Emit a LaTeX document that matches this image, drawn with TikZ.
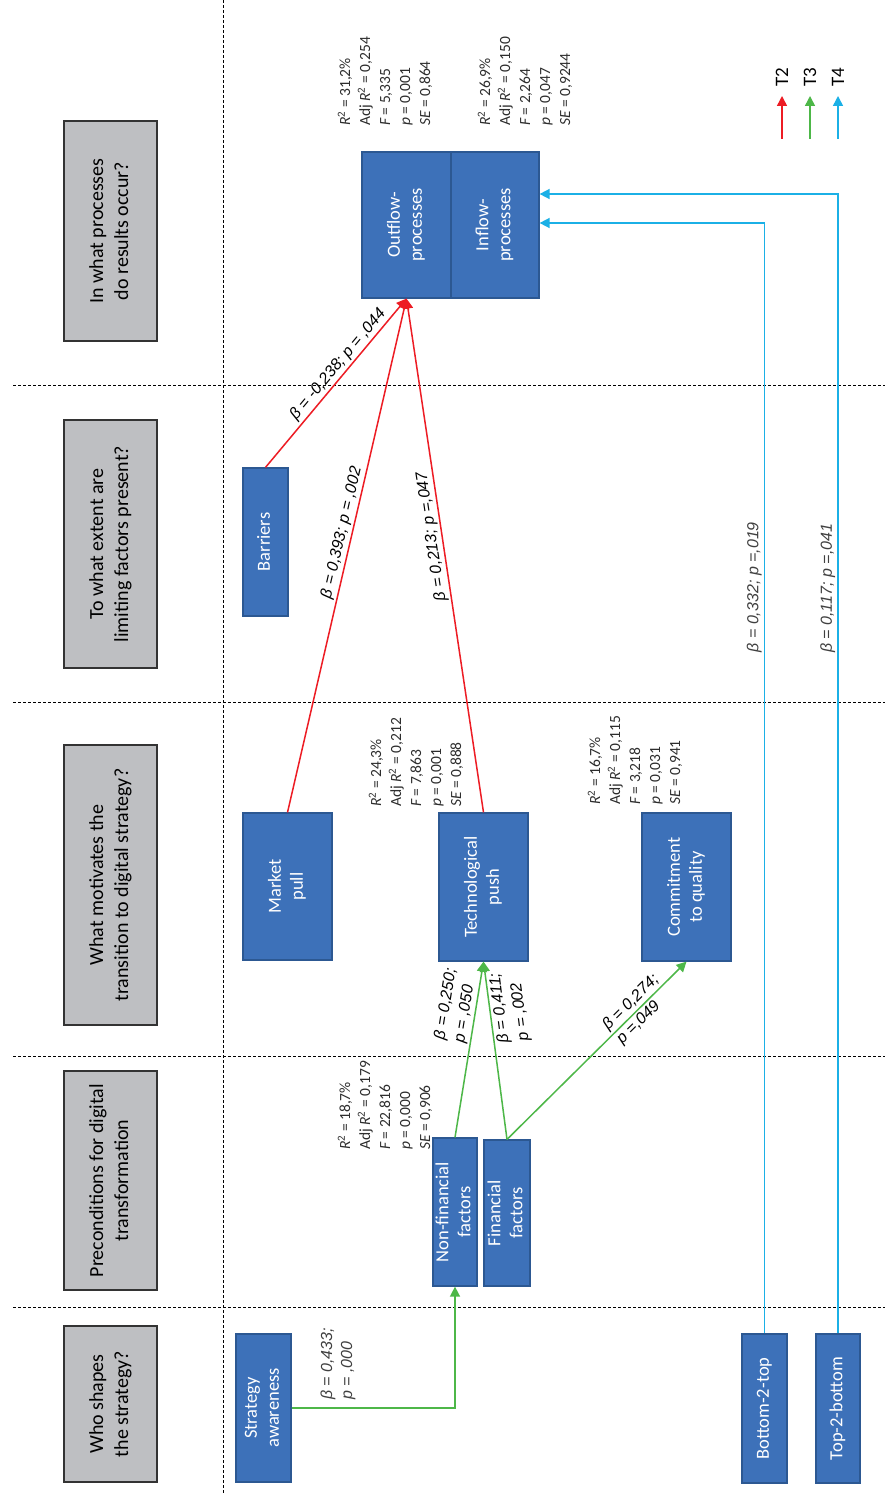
\documentclass[tikz,border=0pt]{standalone}
\usepackage{graphicx}
\usepackage{fontspec}
\setmainfont{Carlito}
\newfontfamily\arialf{Liberation Sans}
\usetikzlibrary{arrows.meta}
\newcommand\rtx[2][c]{\rotatebox{90}{\begin{tabular}{@{}#1@{}}#2\end{tabular}}}
\definecolor{boxblue}{RGB}{61,113,185}
\definecolor{boxedge}{RGB}{44,88,146}
\definecolor{qgray}{RGB}{190,191,194}
\definecolor{tred}{RGB}{237,28,36}
\definecolor{tgreen}{RGB}{77,183,72}
\definecolor{tblue}{RGB}{27,176,230}
\definecolor{statgray}{RGB}{45,45,45}
\begin{document}
\begin{tikzpicture}[x=1pt,y=-1pt,
  qbox/.style={draw=black!80, fill=qgray, line width=1.3pt, minimum width=93pt, inner sep=0pt, font=\fontsize{20}{25}\selectfont},
  bbox/.style={draw=boxedge, fill=boxblue, line width=1.2pt, text=white, inner sep=0pt, font=\fontsize{18.5}{22}\selectfont},
  stat/.style={inner sep=0pt, anchor=south west, text=statgray, font=\fontsize{15.5}{20}\selectfont},
  lbl/.style={inner sep=2pt, text=black, font=\arialf\itshape\fontsize{16}{20}\selectfont},
  thinlbl/.style={lbl, text=black!75},
  leg/.style={inner sep=0pt, font=\fontsize{19}{22}\selectfont},
  dashln/.style={black, line width=0.8pt, dash pattern=on 3pt off 2pt},
  redarr/.style={tred, line width=1.5pt, -{Triangle[length=10pt,width=10pt]}},
  grnarr/.style={tgreen, line width=1.5pt, -{Triangle[length=10pt,width=10pt]}},
  bluarr/.style={tblue, line width=1.5pt, -{Triangle[length=10pt,width=10pt]}}
]
\useasboundingbox (0,0) rectangle (885,1495);
\fill[white] (0,0) rectangle (885,1495);

% dashed grid
\draw[dashln] (223,0) -- (223,1495);
\draw[dashln] (13,385) -- (885,385);
\draw[dashln] (13,702) -- (885,702);
\draw[dashln] (13,1056) -- (885,1056);
\draw[dashln] (13,1307) -- (885,1307);

% question boxes
\node[qbox, minimum height=220pt] (q1) at (110.5,231) {\rtx{In what processes\\do results occur?}};
\node[qbox, minimum height=248pt] (q2) at (110.5,544) {\rtx{To what extent are\\limiting factors present?}};
\node[qbox, minimum height=280pt] (q3) at (110.5,885) {\rtx{What motivates the\\transition to digital strategy?}};
\node[qbox, minimum height=219pt] (q4) at (110.5,1180.5) {\rtx{Preconditions for digital\\transformation}};
\node[qbox, minimum height=156pt] (q5) at (110.5,1404) {\rtx{Who shapes\\the strategy?}};

% blue boxes
\node[bbox, minimum width=89pt, minimum height=146pt] (outflow) at (406.5,225) {\rtx{Outflow-\\processes}};
\node[bbox, minimum width=88pt, minimum height=146pt] (inflow) at (495,225) {\rtx{Inflow-\\processes}};
\node[bbox, minimum width=45pt, minimum height=148pt] (barriers) at (265.5,542) {\rtx{Barriers}};
\node[bbox, minimum width=89pt, minimum height=147pt] (market) at (287.5,886.5) {\rtx{Market\\pull}};
\node[bbox, minimum width=89pt, minimum height=148pt] (tech) at (483.5,887) {\rtx{Technological\\push}};
\node[bbox, minimum width=89pt, minimum height=148pt] (commit) at (686.5,887) {\rtx{Commitment\\to quality}};
\node[bbox, minimum width=44pt, minimum height=148pt] (nonfin) at (455,1212) {\rtx{Non-financial\\factors}};
\node[bbox, minimum width=46pt, minimum height=146pt] (fin) at (507,1213) {\rtx{Financial\\factors}};
\node[bbox, minimum width=55pt, minimum height=148pt] (strat) at (263.5,1408) {\rtx{Strategy\\awareness}};
\node[bbox, minimum width=45pt, minimum height=149pt] (b2t) at (764.5,1408.5) {\rtx{Bottom-2-top}};
\node[bbox, minimum width=44pt, minimum height=149pt] (t2b) at (838,1408.5) {\rtx{Top-2-bottom}};

% statistics
\node[stat] (sout) at (336,126) {\rtx[l]{{\itshape R}\textsuperscript{2} = 31,2\%\\Adj {\itshape R}\textsuperscript{2} = 0,254\\{\itshape F} = 5,335\\{\itshape p} = 0,001\\{\itshape SE} = 0,864}};
\node[stat] (sin) at (476,126) {\rtx[l]{{\itshape R}\textsuperscript{2} = 26,9\%\\Adj {\itshape R}\textsuperscript{2} = 0,150\\{\itshape F} = 2,264\\{\itshape p} = 0,047\\{\itshape SE} = 0,9244}};
\node[stat] (stech) at (367,807) {\rtx[l]{{\itshape R}\textsuperscript{2} = 24,3\%\\Adj {\itshape R}\textsuperscript{2} = 0,212\\{\itshape F} = 7,863\\{\itshape p} = 0,001\\{\itshape SE} = 0,888}};
\node[stat] (scom) at (586,805) {\rtx[l]{{\itshape R}\textsuperscript{2} = 16,7\%\\Adj {\itshape R}\textsuperscript{2} = 0,115\\{\itshape F} = 3,218\\{\itshape p} = 0,031\\{\itshape SE} = 0,941}};
\node[stat] (snon) at (336,1150) {\rtx[l]{{\itshape R}\textsuperscript{2} = 18,7\%\\Adj {\itshape R}\textsuperscript{2} = 0,179\\{\itshape F} = 22,816\\{\itshape p} = 0,000\\{\itshape SE} = 0,906}};

% T2 (red) connectors
\draw[redarr] (barriers.north) -- node[lbl, sloped, above, pos=.57] (lr1) {β = -0,238; p = ,044} (outflow.south);
\draw[redarr] (market.north) -- node[lbl, sloped, above, pos=.54] (lr2) {β = 0,393; p = ,002} (outflow.south);
\draw[redarr] (tech.north) -- node[lbl, sloped, allow upside down, above, pos=.54] (lr3) {β = 0,213; p =,047} (outflow.south);

% T3 (green) connectors
\draw[grnarr] (nonfin.north) -- node[lbl, sloped, above, pos=.73, align=left] (lg1) {β = 0,250;\\p = ,050} (tech.south);
\draw[grnarr] (fin.north) -- node[lbl, sloped, allow upside down, below, pos=.73, align=left] (lg2) {β = 0,411;\\p = ,002} (tech.south);
\draw[grnarr] (fin.north) -- node[lbl, sloped, pos=.73, align=left] (lg3) {β = 0,274;\\p =,049} (commit.south);
\draw[grnarr] (strat.east) -| (nonfin.south);
\node[thinlbl] (lsa) at (338,1364) {\rtx[l]{β = 0,433;\\p = ,000}};

% T4 (blue) connectors
\draw[bluarr] (b2t.north) |- node[thinlbl, sloped, above, pos=.336] (lb1) {β = 0,332; p =,019} ([yshift=2pt]inflow.east);
\draw[bluarr] (t2b.north) |- node[thinlbl, sloped, above, pos=.327] (lb2) {β = 0,117; p =,041} ([yshift=31pt]inflow.east);

% legend
\coordinate (l2a) at (782,139); \coordinate (l2b) at (782,96);
\coordinate (l3a) at (810,139); \coordinate (l3b) at (810,96);
\coordinate (l4a) at (838,139); \coordinate (l4b) at (838,96);
\draw[redarr] (l2a) -- (l2b);
\draw[grnarr] (l3a) -- (l3b);
\draw[bluarr] (l4a) -- (l4b);
\node[leg] (lt2) at (782,77) {\rotatebox{90}{T2}};
\node[leg] (lt3) at (810,77) {\rotatebox{90}{T3}};
\node[leg] (lt4) at (838,77) {\rotatebox{90}{T4}};
\end{tikzpicture}
\end{document}
